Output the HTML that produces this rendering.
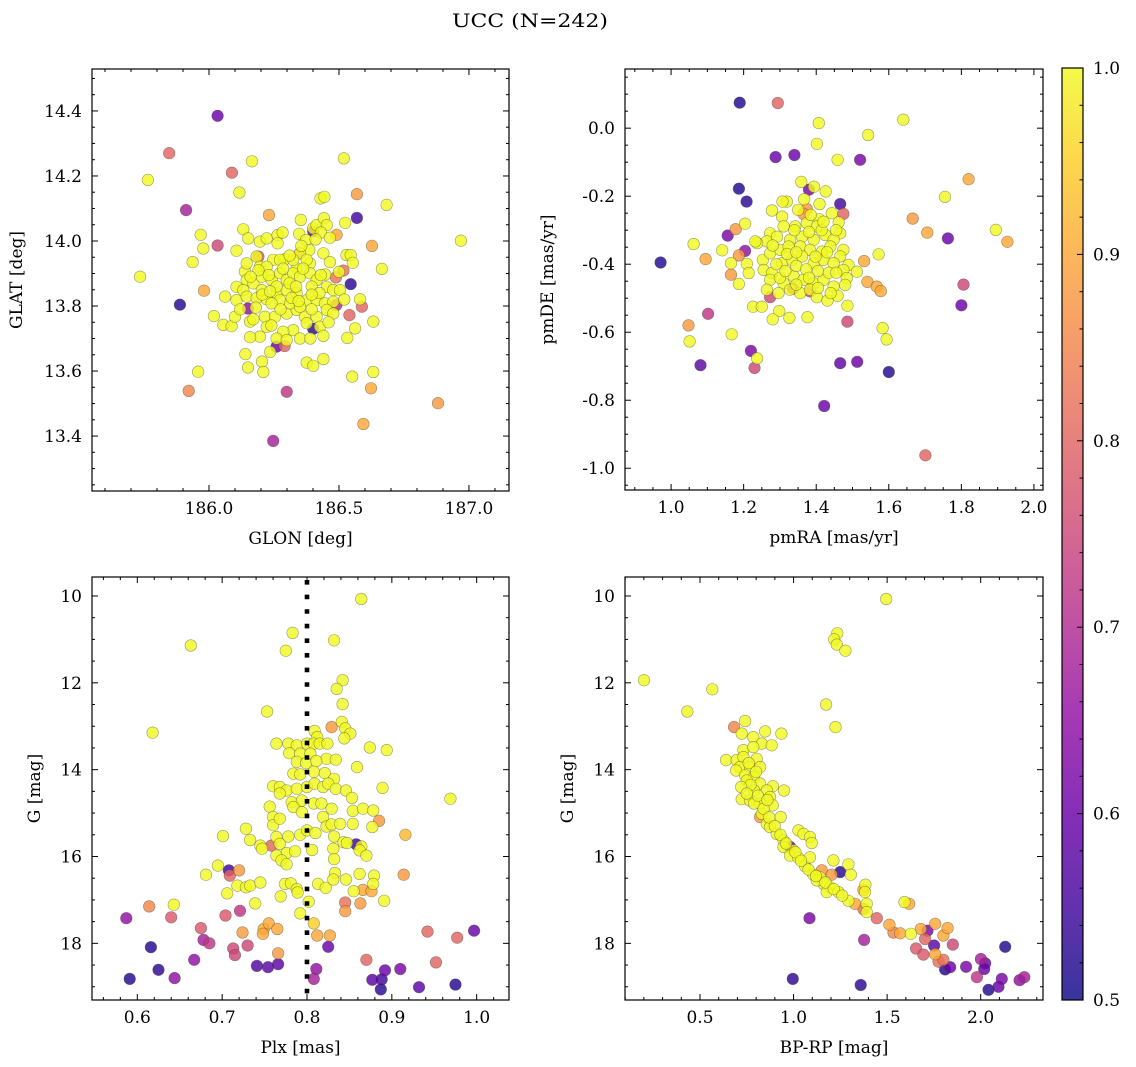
<!DOCTYPE html>
<html><head><meta charset="utf-8"><title>UCC (N=242)</title>
<style>
html,body{margin:0;padding:0;background:#fff;}
svg{display:block;font-family:"DejaVu Serif","Liberation Serif",serif;}
</style></head>
<body>
<svg id="fig" width="1136" height="1067" viewBox="0 0 1136 1067" xmlns="http://www.w3.org/2000/svg">
<text x="530" y="27" font-size="19" text-anchor="middle" textLength="156" lengthAdjust="spacingAndGlyphs">UCC (N=242)</text>
</svg>
<script>
// ---- data: [x, y, membership probability] ----
const glonGlat = [
[186.033,14.385,0.6],[185.847,14.270,0.8],[185.765,14.188,1],[186.088,14.210,0.8],[186.165,14.245,1],[186.117,14.149,1],
[185.912,14.095,0.68],[186.519,14.254,1],[186.569,14.144,0.88],[186.683,14.111,1],[186.569,14.071,0.55],[186.231,14.080,0.9],
[186.491,14.019,0.9],[186.627,13.985,0.9],[186.969,14.001,1],[185.968,14.019,1],[186.033,13.986,0.75],[185.978,13.977,1],
[185.937,13.935,1],[185.735,13.890,1],[186.665,13.914,1],[186.545,13.867,0.53],[186.517,13.909,0.82],[186.488,13.888,0.82],
[185.981,13.847,0.9],[185.888,13.804,0.52],[186.150,13.792,0.65],[186.588,13.798,0.8],[186.540,13.772,0.8],[186.632,13.752,1],
[186.562,13.731,1],[186.401,13.730,0.53],[186.532,13.702,1],[186.260,13.675,0.6],[186.291,13.677,0.8],[186.140,13.652,1],
[186.150,13.611,1],[186.204,13.629,1],[186.209,13.597,1],[186.376,13.626,1],[186.401,13.616,1],[186.440,13.637,1],
[185.958,13.598,1],[185.922,13.539,0.85],[186.299,13.536,0.72],[186.551,13.583,1],[186.632,13.597,1],[186.623,13.547,0.9],
[186.881,13.501,0.88],[186.594,13.437,0.9],[186.247,13.385,0.68],
[186.190,13.952,0.8],[186.350,13.962,0.82],[186.401,14.030,0.6],[186.490,13.803,0.7],
[186.132,14.036,1],[186.151,14.008,1],[186.196,13.998,1],[186.222,14.008,1],[186.264,14.018,1],[186.283,14.026,1],
[186.264,13.993,1],[186.347,14.022,1],[186.353,14.065,1],[186.401,14.039,1],[186.414,14.049,1],[186.442,14.070,1],
[186.453,14.049,1],[186.429,14.131,1],[186.444,14.136,1],[186.524,14.056,1],[186.431,14.026,1],[186.373,14.003,1],
[186.386,13.972,1],[186.350,13.962,1],[186.440,13.962,1],[186.529,13.957,1],[186.545,13.957,1],[186.553,13.933,1],
[186.447,13.897,1],[186.106,13.970,1],[186.183,13.952,1],[186.196,13.921,1],[186.247,13.942,1],[186.292,13.944,1],
[186.337,13.916,1],[186.388,13.931,1],[186.138,13.906,1],[186.145,13.880,1],[186.106,13.859,1],[186.132,13.849,1],
[186.171,13.870,1],[186.203,13.890,1],[186.241,13.880,1],[186.273,13.901,1],[186.299,13.880,1],[186.324,13.901,1],
[186.350,13.890,1],[186.388,13.901,1],[186.414,13.880,1],[186.453,13.859,1],[186.478,13.849,1],[186.504,13.849,1],
[186.062,13.829,1],[186.106,13.818,1],[186.145,13.829,1],[186.183,13.824,1],[186.222,13.821,1],[186.260,13.839,1],
[186.299,13.849,1],[186.337,13.839,1],[186.376,13.818,1],[186.414,13.818,1],[186.446,13.808,1],[186.478,13.813,1],
[186.581,13.821,1],[186.019,13.769,1],[186.055,13.742,1],[186.087,13.738,1],[186.100,13.767,1],[186.158,13.752,1],
[186.171,13.759,1],[186.215,13.767,1],[186.254,13.767,1],[186.299,13.777,1],[186.337,13.788,1],[186.369,13.767,1],
[186.414,13.767,1],[186.453,13.788,1],[186.427,13.736,1],[186.440,13.708,1],[186.478,13.777,1],[186.324,13.726,1],
[186.350,13.700,1],[186.286,13.721,1],[186.260,13.700,1],[186.222,13.736,1],[186.196,13.706,1],[186.158,13.704,1],
[186.235,13.659,1],[186.299,13.695,1],[186.376,13.747,1],[186.273,13.818,1],[186.312,13.808,1],[186.350,13.798,1],
[186.203,13.849,1],[186.241,13.808,1],[186.273,13.942,1],[186.324,13.942,1],[186.376,13.942,1],[186.222,13.921,1],
[186.145,13.931,1],
[186.190,13.910,1],[186.230,13.895,1],[186.260,13.860,1],[186.285,13.915,1],[186.310,13.870,1],[186.335,13.860,1],
[186.362,13.915,1],[186.395,13.860,1],[186.425,13.840,1],[186.205,13.835,1],[186.235,13.845,1],[186.318,13.825,1],
[186.345,13.815,1],[186.395,13.835,1],[186.180,13.795,1],[186.275,13.790,1],[186.395,13.790,1],[186.430,13.895,1],
[186.465,13.935,1],[186.500,13.905,1],[186.160,13.890,1],[186.310,13.955,1],[186.355,13.985,1],[186.410,14.005,1],
[186.465,14.010,1],[186.240,13.740,1],[186.390,13.700,1],[186.460,13.750,1],[186.120,13.790,1],[186.520,13.820,1]
];
const pmraPmde = [
[1.189,0.075,0.52],[1.294,0.074,0.8],[1.407,0.015,1],[1.640,0.025,1],[1.402,-0.046,1],[1.543,-0.020,1],
[1.288,-0.085,0.6],[1.340,-0.079,0.6],[1.521,-0.093,0.62],[1.459,-0.093,1],[1.187,-0.178,0.52],[1.208,-0.216,0.53],
[1.820,-0.150,0.9],[1.755,-0.202,1],[1.666,-0.266,0.88],[1.706,-0.307,0.9],[1.763,-0.324,0.6],[1.895,-0.299,1],
[1.927,-0.334,0.9],[1.466,-0.223,0.55],[1.475,-0.252,0.8],[0.971,-0.395,0.52],[1.062,-0.341,1],[1.095,-0.385,0.9],
[1.141,-0.359,1],[1.156,-0.316,0.62],[1.178,-0.297,0.88],[1.204,-0.281,1],[1.204,-0.361,0.65],[1.187,-0.374,0.88],
[1.165,-0.431,0.88],[1.187,-0.458,1],[1.532,-0.391,0.9],[1.572,-0.371,1],[1.541,-0.452,0.9],[1.567,-0.466,0.9],
[1.578,-0.479,0.9],[1.806,-0.460,0.75],[1.800,-0.521,0.6],[1.102,-0.546,0.72],[1.048,-0.580,0.88],[1.051,-0.627,1],
[1.167,-0.606,1],[1.220,-0.655,0.62],[1.237,-0.677,1],[1.230,-0.705,0.75],[1.081,-0.697,0.58],[1.486,-0.569,0.75],
[1.583,-0.588,1],[1.594,-0.621,1],[1.466,-0.691,0.58],[1.513,-0.687,0.6],[1.600,-0.717,0.52],[1.422,-0.817,0.6],
[1.701,-0.962,0.8],[1.226,-0.525,1],[1.250,-0.525,1],[1.298,-0.538,1],[1.280,-0.562,1],[1.326,-0.558,1],
[1.376,-0.556,1],[1.486,-0.522,1],
[1.380,-0.181,0.62],[1.374,-0.238,0.88],[1.365,-0.252,0.88],[1.273,-0.497,0.75],[1.336,-0.472,0.7],[1.383,-0.480,0.75],
[1.359,-0.158,1],[1.394,-0.172,1],[1.426,-0.186,1],[1.367,-0.209,1],[1.319,-0.216,1],[1.409,-0.223,1],
[1.278,-0.242,1],[1.306,-0.260,1],[1.443,-0.250,1],[1.462,-0.277,1],[1.409,-0.268,1],[1.374,-0.279,1],
[1.342,-0.289,1],[1.310,-0.289,1],[1.402,-0.289,1],[1.466,-0.309,1],[1.273,-0.309,1],[1.264,-0.333,1],
[1.237,-0.338,1],[1.292,-0.319,1],[1.328,-0.328,1],[1.361,-0.319,1],[1.393,-0.328,1],[1.425,-0.314,1],
[1.448,-0.328,1],[1.475,-0.358,1],[1.253,-0.387,1],[1.273,-0.368,1],[1.301,-0.358,1],[1.324,-0.348,1],
[1.356,-0.348,1],[1.383,-0.358,1],[1.416,-0.363,1],[1.439,-0.348,1],[1.466,-0.377,1],[1.489,-0.402,1],
[1.512,-0.422,1],[1.255,-0.417,1],[1.278,-0.426,1],[1.306,-0.397,1],[1.333,-0.387,1],[1.361,-0.377,1],
[1.393,-0.397,1],[1.420,-0.387,1],[1.448,-0.397,1],[1.475,-0.417,1],[1.484,-0.441,1],[1.480,-0.461,1],
[1.273,-0.446,1],[1.310,-0.456,1],[1.338,-0.436,1],[1.365,-0.446,1],[1.393,-0.456,1],[1.420,-0.446,1],
[1.448,-0.466,1],[1.264,-0.475,1],[1.296,-0.485,1],[1.328,-0.475,1],[1.356,-0.485,1],[1.383,-0.475,1],
[1.402,-0.497,1],[1.431,-0.507,1],[1.459,-0.493,1],[1.165,-0.397,1],[1.209,-0.399,1],[1.214,-0.426,1],
[1.307,-0.216,1],[1.232,-0.333,1],
[1.340,-0.300,1],[1.380,-0.305,1],[1.415,-0.300,1],[1.320,-0.370,1],[1.345,-0.405,1],[1.372,-0.415,1],
[1.405,-0.420,1],[1.435,-0.425,1],[1.290,-0.400,1],[1.345,-0.365,1],[1.398,-0.378,1],[1.430,-0.365,1],
[1.455,-0.425,1],[1.345,-0.460,1],[1.405,-0.470,1],[1.440,-0.485,1],[1.300,-0.440,1],[1.385,-0.255,1],
[1.350,-0.240,1],[1.420,-0.275,1],[1.455,-0.300,1],[1.280,-0.345,1],[1.315,-0.420,1],[1.380,-0.440,1]
];
const plxG = [
[0.864,10.07,1],[0.783,10.85,1],[0.775,11.26,1],[0.832,11.02,1],[0.663,11.14,1],[0.842,11.94,1],[0.835,12.14,1],
[0.842,12.49,1],[0.753,12.66,1],[0.618,13.15,1],[0.841,12.90,1],[0.845,13.05,1],[0.851,13.17,1],[0.844,13.28,1],
[0.809,13.11,1],[0.812,13.25,1],[0.829,13.02,0.88],[0.764,13.40,1],[0.778,13.40,1],[0.788,13.44,1],[0.800,13.40,1],
[0.808,13.40,1],[0.815,13.40,1],[0.824,13.40,1],[0.874,13.49,1],[0.894,13.55,1],[0.779,13.62,1],[0.792,13.63,1],
[0.804,13.63,1],[0.823,13.75,1],[0.834,13.77,1],[0.788,13.82,1],[0.799,13.85,1],[0.811,13.80,1],[0.859,13.94,1],
[0.784,14.09,1],[0.792,14.11,1],[0.808,14.05,1],[0.821,14.08,1],[0.832,14.21,1],[0.760,14.38,1],[0.768,14.40,1],
[0.776,14.48,1],[0.788,14.44,1],[0.800,14.40,1],[0.809,14.32,1],[0.819,14.40,1],[0.825,14.32,1],[0.834,14.44,1],
[0.846,14.48,1],[0.853,14.65,1],[0.889,14.42,1],[0.969,14.67,1],[0.768,14.55,1],[0.782,14.75,1],[0.794,14.71,1],
[0.808,14.78,1],[0.817,14.78,1],[0.829,14.90,1],[0.756,14.85,1],[0.760,15.09,1],[0.784,14.86,1],[0.794,14.98,1],
[0.819,15.09,1],[0.854,14.95,1],[0.866,14.90,1],[0.878,14.94,1],[0.885,15.18,0.88],[0.877,15.32,1],[0.760,15.28,1],
[0.768,15.13,1],[0.823,15.31,1],[0.829,15.26,1],[0.839,15.25,1],[0.854,15.25,1],[0.728,15.36,1],[0.701,15.53,1],
[0.733,15.62,1],[0.764,15.55,1],[0.778,15.54,1],[0.792,15.50,1],[0.800,15.40,1],[0.810,15.46,1],[0.832,15.54,1],
[0.916,15.50,0.92],[0.745,15.75,1],[0.747,15.82,1],[0.758,15.75,0.8],[0.768,15.71,1],[0.776,15.92,1],[0.786,15.88,1],
[0.806,15.85,1],[0.831,15.82,1],[0.843,15.67,1],[0.847,15.69,1],[0.858,15.72,0.55],[0.864,15.77,1],[0.862,15.86,1],
[0.870,15.98,1],[0.832,16.06,1],[0.764,15.98,1],[0.770,16.09,1],[0.776,16.18,1],[0.695,16.21,1],[0.708,16.32,0.55],
[0.709,16.44,0.8],[0.720,16.32,0.88],[0.681,16.42,1],[0.833,16.38,1],[0.846,16.53,1],[0.862,16.40,1],[0.879,16.44,1],
[0.914,16.42,0.88],[0.774,16.63,1],[0.781,16.62,1],[0.788,16.75,1],[0.813,16.63,1],[0.822,16.72,1],[0.831,16.53,1],
[0.878,16.63,1],[0.718,16.67,1],[0.728,16.71,1],[0.733,16.67,1],[0.745,16.60,1],[0.706,16.85,1],[0.769,16.92,1],
[0.789,16.83,1],[0.855,16.80,1],[0.866,16.77,0.9],[0.876,16.80,0.9],[0.891,17.02,1],[0.802,17.04,1],[0.845,17.06,0.82],
[0.863,17.08,0.88],[0.845,17.26,0.88],[0.739,17.08,1],[0.792,17.31,1],[0.643,17.11,1],[0.614,17.15,0.85],[0.587,17.42,0.65],
[0.640,17.40,0.78],[0.704,17.36,0.78],[0.721,17.25,0.72],[0.675,17.65,0.78],[0.678,17.92,0.68],[0.685,18.00,0.72],
[0.713,18.12,0.75],[0.715,18.27,0.75],[0.730,18.05,0.75],[0.724,17.75,0.88],[0.749,17.67,0.9],[0.755,17.54,0.9],
[0.765,17.67,0.9],[0.748,17.78,0.9],[0.808,17.54,0.95],[0.812,17.82,0.9],[0.827,17.82,0.9],[0.766,18.23,0.88],
[0.825,18.08,0.6],[0.616,18.09,0.52],[0.667,18.38,0.65],[0.625,18.61,0.53],[0.591,18.82,0.52],[0.644,18.80,0.65],
[0.741,18.52,0.57],[0.754,18.55,0.58],[0.766,18.48,0.58],[0.811,18.59,0.65],[0.808,18.82,0.68],[0.870,18.38,0.8],
[0.892,18.62,0.6],[0.877,18.84,0.58],[0.888,18.83,0.55],[0.887,19.06,0.53],[0.910,18.59,0.62],[0.932,19.01,0.58],
[0.952,18.44,0.8],[0.942,17.73,0.8],[0.977,17.87,0.8],[0.997,17.71,0.6],[0.975,18.95,0.52]
];
const bprpG = [
[1.495,10.07,1],[1.234,10.86,1],[1.217,11.00,1],[1.231,11.12,1],[1.277,11.26,1],[0.201,11.94,1],[0.566,12.15,1],
[0.432,12.66,1],[1.174,12.50,1],[1.224,13.02,1],[0.741,12.88,1],[0.682,13.02,0.85],[0.723,13.17,1],[0.785,13.25,1],
[0.848,13.12,1],[0.830,13.40,1],[0.883,13.44,1],[0.935,13.17,1],[0.732,13.55,1],[0.785,13.48,1],[0.639,13.78,1],
[0.696,13.78,1],[0.732,13.71,1],[0.803,13.75,1],[0.714,13.94,1],[0.767,13.94,1],[0.821,13.94,1],[0.693,14.02,1],
[0.741,14.13,1],[0.789,14.17,1],[0.750,14.25,1],[0.821,14.32,1],[0.889,14.38,1],[0.949,14.48,1],[0.857,14.48,1],
[0.789,14.48,1],[0.723,14.68,1],[0.767,14.71,1],[0.821,14.78,1],[0.874,14.63,1],[0.889,14.82,1],[0.789,14.78,1],
[0.830,15.02,1],[0.821,15.09,0.88],[0.857,15.25,1],[0.931,15.09,1],[0.874,15.32,1],[0.910,15.48,1],[0.946,15.63,1],
[0.981,15.78,0.6],[0.946,15.78,1],[0.999,15.86,1],[0.981,15.98,1],[1.026,15.40,1],[1.053,15.48,1],[1.088,15.55,1],
[1.097,15.69,1],[1.026,16.03,1],[1.061,16.22,1],[1.088,16.02,1],[1.106,16.42,1],[1.142,16.48,1],[1.160,16.63,1],
[1.124,16.55,1],[1.195,16.71,1],[1.177,16.82,1],[1.240,16.82,1],[1.151,16.32,0.88],[1.204,16.42,0.88],[1.249,16.36,0.52],
[1.213,16.09,1],[1.293,16.18,1],[1.306,16.42,1],[1.384,16.65,1],[1.373,16.77,0.9],[1.382,16.82,1],[1.293,17.02,1],
[1.329,17.09,0.9],[1.373,17.21,0.82],[1.391,17.09,1],[1.391,17.28,1],[1.445,17.42,0.8],[1.512,17.57,0.9],[1.534,17.75,0.85],
[1.570,17.77,0.9],[1.593,17.05,1],[1.618,17.09,0.9],[1.627,17.78,1],[1.680,17.67,0.9],[1.716,17.71,0.62],[1.703,17.90,0.8],
[1.655,18.12,0.78],[1.694,18.26,0.78],[1.757,17.55,0.9],[1.801,17.82,0.9],[1.823,17.65,0.9],[1.751,18.05,0.58],
[1.757,18.25,0.9],[1.775,18.42,0.82],[1.801,18.38,0.82],[1.851,18.03,0.75],[1.810,18.60,0.52],[1.837,18.55,0.6],
[1.922,18.54,0.62],[1.980,18.78,0.72],[2.001,18.36,0.68],[2.024,18.46,0.6],[2.019,18.59,0.6],[2.131,18.08,0.52],
[2.042,19.07,0.52],[2.095,19.00,0.6],[2.113,18.82,0.62],[2.208,18.85,0.65],[2.233,18.78,0.68],[1.085,17.42,0.62],
[1.377,17.92,0.68],[0.996,18.82,0.53],[1.359,18.96,0.53],
[0.760,13.85,1],[0.800,14.05,1],[0.770,14.35,1],[0.810,14.60,1],[0.840,14.90,1],[0.870,15.10,1],[0.900,15.30,1],
[0.930,15.50,1],[0.960,15.70,1],[1.010,15.90,1],[1.040,16.10,1],[1.080,16.30,1],[1.120,16.45,1],[1.170,16.60,1],
[1.215,16.75,1],[1.260,16.90,1],[0.720,14.40,1],[0.750,14.55,1],[0.860,14.70,1]
];
// tick values
const glonTicks = [186.0, 186.5, 187.0];
const glatTicks = [13.4, 13.6, 13.8, 14.0, 14.2, 14.4];
const pmraTicks = [1.0, 1.2, 1.4, 1.6, 1.8, 2.0];
const pmdeTicks = [-1.0, -0.8, -0.6, -0.4, -0.2, 0.0];
const plxTicks = [0.6, 0.7, 0.8, 0.9, 1.0];
const gTicks = [10, 12, 14, 16, 18];
const bprpTicks = [0.5, 1.0, 1.5, 2.0];
const cbarTicks = [0.5, 0.6, 0.7, 0.8, 0.9, 1.0];
const plxCut = 0.8;

const NS = "http://www.w3.org/2000/svg";
const fig = document.getElementById('fig');
const plasma = ["#0d0887","#41049d","#6a00a8","#8f0da4","#b12a90","#cc4778","#e16462","#f2844b","#fca636","#fcce25","#f0f921"];
function hex(h){return [parseInt(h.substr(1,2),16),parseInt(h.substr(3,2),16),parseInt(h.substr(5,2),16)];}
function cmap(p){
  let t=Math.max(0,Math.min(1,(p-0.5)/0.5))*10;
  let i=Math.min(9,Math.floor(t)),f=t-i;
  let a=hex(plasma[i]),b=hex(plasma[i+1]);
  return 'rgb('+a.map((v,k)=>Math.round(v+(b[k]-v)*f)).join(',')+')';
}
function el(tag,attrs,parent){const e=document.createElementNS(NS,tag);for(const k in attrs)e.setAttribute(k,attrs[k]);(parent||fig).appendChild(e);return e;}

function panel(cfg){
  const g=el('g',{});
  
  
  const b=cfg.box;
  const sx=v=>b.x0+(v-cfg.xmin)/(cfg.xmax-cfg.xmin)*(b.x1-b.x0);
  const sy=v=>b.y1-(v-cfg.ymin)/(cfg.ymax-cfg.ymin)*(b.y1-b.y0);
  const clip='clip-'+cfg.name;
  const cp=el('clipPath',{id:clip},g);
  el('rect',{x:b.x0,y:b.y0,width:b.x1-b.x0,height:b.y1-b.y0},cp);
  const pts=el('g',{'clip-path':'url(#'+clip+')'},g);
  
  
  const order=cfg.data.map((d,i)=>i).sort((a,c)=>cfg.data[a][2]-cfg.data[c][2]);
  order.forEach(i=>{
    const d=cfg.data[i];
    const c=el('circle',{cx:sx(d[0]).toFixed(1),cy:sy(d[1]).toFixed(1),r:5.8,fill:cmap(d[2]),'fill-opacity':0.82,stroke:'rgba(70,70,50,0.55)','stroke-width':0.6},pts);
    
    
  });
  if(cfg.vline!==undefined){
    const l=el('line',{x1:sx(cfg.vline),x2:sx(cfg.vline),y1:b.y0+3,y2:b.y1,stroke:'#000','stroke-width':4.6,'stroke-dasharray':'4.6 10'},g);
    
    
  }
  const tk=el('g',{stroke:'#000','stroke-width':1},g);
  function minors(lo,hi,step,majors){const out=[];for(let k=Math.ceil(lo/step-1e-9);k*step<=hi+1e-9;k++){const v=k*step;if(!majors.some(m=>Math.abs(m-v)<step/10))out.push(v);}return out;}
  const xm=minors(Math.min(cfg.xmin,cfg.xmax),Math.max(cfg.xmin,cfg.xmax),cfg.xminor,cfg.xticks);
  const ym=minors(Math.min(cfg.ymin,cfg.ymax),Math.max(cfg.ymin,cfg.ymax),cfg.yminor,cfg.yticks);
  cfg.xticks.forEach(v=>{const x=sx(v);el('line',{x1:x,x2:x,y1:b.y1,y2:b.y1-6},tk);el('line',{x1:x,x2:x,y1:b.y0,y2:b.y0+6},tk);});
  xm.forEach(v=>{const x=sx(v);el('line',{x1:x,x2:x,y1:b.y1,y2:b.y1-3},tk);el('line',{x1:x,x2:x,y1:b.y0,y2:b.y0+3},tk);});
  cfg.yticks.forEach(v=>{const y=sy(v);el('line',{x1:b.x0,x2:b.x0+6,y1:y,y2:y},tk);el('line',{x1:b.x1,x2:b.x1-6,y1:y,y2:y},tk);});
  ym.forEach(v=>{const y=sy(v);el('line',{x1:b.x0,x2:b.x0+3,y1:y,y2:y},tk);el('line',{x1:b.x1,x2:b.x1-3,y1:y,y2:y},tk);});
  const fr=el('rect',{x:b.x0,y:b.y0,width:b.x1-b.x0,height:b.y1-b.y0,fill:'none',stroke:'#000','stroke-width':1.2},g);
  
  
  cfg.xticks.forEach(v=>{
    const t=el('text',{x:sx(v),y:b.y1+23,'font-size':17,'text-anchor':'middle'},g);
    t.textContent=v.toFixed(cfg.xdec);
    
    
  });
  cfg.yticks.forEach(v=>{
    const t=el('text',{x:b.x0-10,y:sy(v)+6,'font-size':17,'text-anchor':'end'},g);
    t.textContent=v.toFixed(cfg.ydec);
    
    
  });
  const xl=el('text',{x:(b.x0+b.x1)/2,y:b.y1+53,'font-size':17,'text-anchor':'middle'},g);
  xl.textContent=cfg.xlabel;
  
  
  const yl=el('text',{x:0,y:0,'font-size':17,'text-anchor':'middle',transform:'translate('+cfg.ylx+','+((b.y0+b.y1)/2)+') rotate(-90)'},g);
  yl.textContent=cfg.ylabel;
  
  
}

panel({name:'glon-glat-panel',box:{x0:92,x1:509,y0:69,y1:491},xmin:185.55,xmax:187.154,ymin:13.231,ymax:14.529,
  data:glonGlat,xticks:glonTicks,yticks:glatTicks,xminor:0.1,yminor:0.05,xdec:1,ydec:1,xlabel:'GLON [deg]',ylabel:'GLAT [deg]',ylx:22});
panel({name:'pmra-pmde-panel',box:{x0:625,x1:1043,y0:69,y1:490},xmin:0.873,xmax:2.025,ymin:-1.064,ymax:0.174,
  data:pmraPmde,xticks:pmraTicks,yticks:pmdeTicks,xminor:0.05,yminor:0.05,xdec:1,ydec:1,xlabel:'pmRA [mas/yr]',ylabel:'pmDE [mas/yr]',ylx:553});
panel({name:'plx-g-panel',box:{x0:92,x1:509,y0:577,y1:1000},xmin:0.5466,xmax:1.0381,ymin:19.305,ymax:9.563,
  data:plxG,xticks:plxTicks,yticks:gTicks,xminor:0.02,yminor:0.5,xdec:1,ydec:0,xlabel:'Plx [mas]',ylabel:'G [mag]',ylx:40,vline:plxCut});
panel({name:'bprp-g-panel',box:{x0:625,x1:1043,y0:577,y1:1000},xmin:0.0992,xmax:2.333,ymin:19.305,ymax:9.563,
  data:bprpG,xticks:bprpTicks,yticks:gTicks,xminor:0.1,yminor:0.5,xdec:1,ydec:0,xlabel:'BP-RP [mag]',ylabel:'G [mag]',ylx:573});

// colorbar
(function(){
  const cb={x0:1062,x1:1083,y0:68,y1:1000,vmin:0.5,vmax:1.0};
  const g=el('g',{});
  
  
  const defs=el('defs',{},g);
  const lg=el('linearGradient',{id:'cbgrad',x1:0,y1:1,x2:0,y2:0},defs);
  plasma.forEach((c,i)=>el('stop',{offset:(i*10)+'%','stop-color':c},lg));
  el('rect',{x:cb.x0,y:cb.y0,width:cb.x1-cb.x0,height:cb.y1-cb.y0,fill:'url(#cbgrad)','fill-opacity':0.82},g);
  const sy=v=>cb.y1-(v-cb.vmin)/(cb.vmax-cb.vmin)*(cb.y1-cb.y0);
  for(let k=25;k<=50;k++){const v=k/50;const y=sy(v);const major=(k%5===0);
    el('line',{x1:cb.x1,x2:cb.x1-(major?6:3.5),y1:y,y2:y,stroke:'#000','stroke-width':1},g);}
  el('rect',{x:cb.x0,y:cb.y0,width:cb.x1-cb.x0,height:cb.y1-cb.y0,fill:'none',stroke:'#000','stroke-width':1.2},g);
  cbarTicks.forEach(v=>{
    const t=el('text',{x:cb.x1+10,y:sy(v)+6,'font-size':17},g);
    t.textContent=v.toFixed(1);
    
    
  });
})();
</script>
</body></html>
